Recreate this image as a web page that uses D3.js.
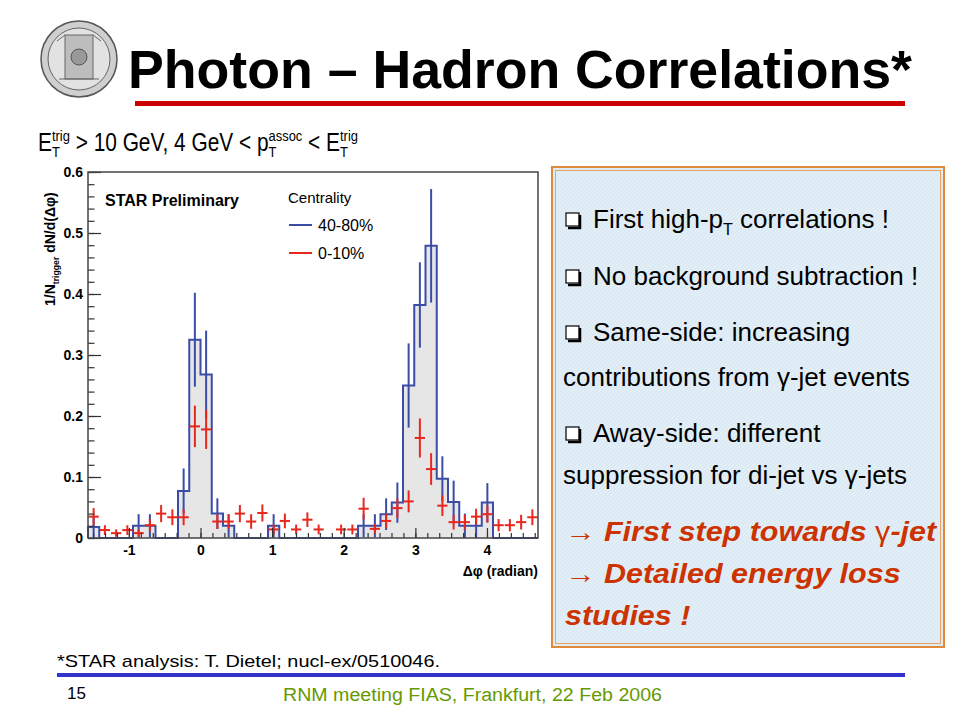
<!DOCTYPE html>
<html>
<head>
<meta charset="utf-8">
<script src="https://cdn.jsdelivr.net/npm/d3@7"></script>
<style>
  body { margin: 0; background: #fff; }
  text { font-family: "Liberation Sans", Arial, sans-serif; white-space: pre; }
</style>
</head>
<body>
<div id="slide"></div>
<script>
// histogram: 40 bins in delta-phi from -pi/2 to 3pi/2
var nBins = 40;
var phiMin = -Math.PI / 2, phiMax = 3 * Math.PI / 2;

// 40-80% centrality (blue histogram)
var blueVals = [0.018, 0, 0, 0, 0.020, 0.020, 0, 0, 0.077, 0.325,
                0.268, 0.040, 0.020, 0, 0, 0, 0.020, 0, 0, 0,
                0, 0, 0, 0, 0.020, 0.020, 0.039, 0.058, 0.250, 0.382,
                0.479, 0.097, 0.059, 0.020, 0.020, 0.058, 0, 0, 0, 0];
var blueErr = [0.018, 0, 0, 0, 0.019, 0.019, 0, 0, 0.037, 0.077,
               0.072, 0.025, 0.019, 0, 0, 0, 0.019, 0, 0, 0,
               0, 0, 0, 0, 0.019, 0.019, 0.026, 0.033, 0.069, 0.070,
               0.093, 0.037, 0.035, 0.020, 0.020, 0.032, 0, 0, 0, 0];

// 0-10% centrality (red points)
var redVals = [0.035, 0.013, 0.008, 0.013, 0.008, 0.021, 0.040, 0.034, 0.034, 0.183,
               0.178, 0.027, 0.027, 0.040, 0.027, 0.041, 0.014, 0.028, 0.014, 0.030,
               0.014, null, 0.014, 0.014, 0.048, 0.015, 0.028, 0.049, 0.060, 0.164,
               0.113, 0.053, 0.026, 0.026, 0.035, 0.039, 0.021, 0.021, 0.026, 0.034];
var redErr = [0.014, 0.008, 0.006, 0.008, 0.006, 0.010, 0.014, 0.013, 0.013, 0.034,
              0.032, 0.012, 0.012, 0.014, 0.012, 0.014, 0.008, 0.012, 0.008, 0.012,
              0.008, null, 0.008, 0.008, 0.018, 0.008, 0.012, 0.016, 0.018, 0.032,
              0.026, 0.017, 0.012, 0.012, 0.013, 0.014, 0.010, 0.010, 0.012, 0.013];

var yTicks = [0, 0.1, 0.2, 0.3, 0.4, 0.5, 0.6];
var xTicks = [-1, 0, 1, 2, 3, 4];
var legendLabels = ["40-80%", "0-10%"];

var bullets = [
    { box: true, parts: [{ t: "First high-p" }, { sub: "T" }, { t: " correlations !" }] },
    { box: true, parts: [{ t: "No background subtraction !" }] },
    { box: true, parts: [{ t: "Same-side: increasing" }] },
    { box: false, parts: [{ t: "contributions from " }, { t: "γ", serif: true }, { t: "-jet events" }] },
    { box: true, parts: [{ t: "Away-side: different" }] },
    { box: false, parts: [{ t: "suppression for di-jet vs " }, { t: "γ", serif: true }, { t: "-jets" }] }
];
var conclusions = [
    [{ t: "→", arrow: true }, { t: " First step towards " }, { t: "γ", serif: true }, { t: "-jet" }],
    [{ t: "→", arrow: true }, { t: " Detailed energy loss" }],
    [{ t: "studies !" }]
];

var svgWidth = 960, svgHeight = 720;
var svg = d3.select("#slide").append("svg")
    .attr("width", svgWidth)
    .attr("height", svgHeight);

// plot frame
var frame = { left: 88, right: 538, top: 172, bottom: 538 };

var xScale = d3.scaleLinear().domain([phiMin, phiMax]).range([frame.left, frame.right]);
var yScale = d3.scaleLinear().domain([0, 0.6]).range([frame.bottom, frame.top]);
var binW = (phiMax - phiMin) / nBins;
var binLo = i => phiMin + i * binW;
var binMid = i => phiMin + (i + 0.5) * binW;

var blueColor = "#3b4ca6", redColor = "#e8271d";

// sequential text pieces (sub/superscripts, mixed fonts)
function richText(parent, x, y, parts, o) {
    var cx = x;
    parts.forEach(function (p) {
        if (p.sup !== undefined || p.sub !== undefined) {
            var w = 0;
            if (p.sup !== undefined) {
                var s = parent.append("text").attr("x", cx).attr("y", y - o.size * 0.42)
                    .attr("font-size", o.size * 0.62).attr("font-weight", o.weight || "normal")
                    .attr("fill", o.color || "#000").text(p.sup);
                w = Math.max(w, s.node().getComputedTextLength());
            }
            if (p.sub !== undefined) {
                var b = parent.append("text").attr("x", cx).attr("y", y + o.size * 0.25)
                    .attr("font-size", o.size * 0.62).attr("font-weight", o.weight || "normal")
                    .attr("fill", o.color || "#000").text(p.sub);
                w = Math.max(w, b.node().getComputedTextLength());
            }
            cx += w;
        } else {
            var t = parent.append("text").attr("x", cx).attr("y", y)
                .attr("font-size", o.size)
                .attr("font-weight", p.serif ? "normal" : (o.weight || "normal"))
                .attr("font-style", p.serif || p.arrow ? "normal" : (o.style || "normal"))
                .attr("fill", o.color || "#000")
                .text(p.t);
            if (p.serif) t.attr("font-family", "'Liberation Serif', 'DejaVu Serif', serif");
            if (p.arrow) t.attr("font-family", "'DejaVu Sans', sans-serif").attr("font-weight", "bold");
            cx += t.node().getComputedTextLength();
        }
    });
    return cx;
}

// ---- slide header ----
var logo = svg.append("g").attr("transform", "translate(79,59)");
logo.append("circle").attr("r", 38).attr("fill", "#cfcfcf").attr("stroke", "#555").attr("stroke-width", 1.5);
logo.append("circle").attr("r", 31).attr("fill", "#e2e2e2").attr("stroke", "#666").attr("stroke-width", 1);
logo.append("rect").attr("x", -14).attr("y", -24).attr("width", 28).attr("height", 44)
    .attr("fill", "#bdbdbd").attr("stroke", "#666");
logo.append("circle").attr("r", 8).attr("cy", -2).attr("fill", "#999").attr("stroke", "#555");
logo.append("path").attr("d", "M-22,-18 L-14,-24 M22,-18 L14,-24 M-20,20 L20,20")
    .attr("stroke", "#666").attr("fill", "none");

svg.append("text")
    .attr("x", 128).attr("y", 88)
    .attr("font-size", 53).attr("font-weight", "bold")
    .attr("textLength", 784).attr("lengthAdjust", "spacingAndGlyphs")
    .text("Photon – Hadron Correlations*");

svg.append("rect").attr("x", 135).attr("y", 101).attr("width", 770).attr("height", 5).attr("fill", "#cc0000");

// ---- chart heading (narrow face, squeezed to its width in the slide) ----
var head = svg.append("g");
var hEnd = richText(head, 0, 0, [{ t: "E" }, { sup: "trig", sub: "T" }, { t: " > 10 GeV, 4 GeV < p" },
    { sup: "assoc", sub: "T" }, { t: " < E" }, { sup: "trig", sub: "T" }], { size: 25 });
head.attr("transform", `translate(38,151) scale(${320 / hEnd},1)`);

// ---- histogram ----
var chart = svg.append("g");

// filled area under blue histogram
var stepPts = [[xScale(phiMin), yScale(0)]];
blueVals.forEach(function (v, i) {
    stepPts.push([xScale(binLo(i)), yScale(v)]);
    stepPts.push([xScale(binLo(i + 1)), yScale(v)]);
});
stepPts.push([xScale(phiMax), yScale(0)]);

chart.append("path")
    .attr("d", d3.line()(stepPts) + "Z")
    .attr("fill", "#e6e6e6")
    .attr("stroke", "none");

// blue error bars
chart.selectAll(".blueErr")
    .data(blueVals.map((v, i) => ({ v: v, e: blueErr[i], i: i })).filter(d => d.v > 0))
    .enter()
    .append("line")
    .attr("x1", d => xScale(binMid(d.i)))
    .attr("x2", d => xScale(binMid(d.i)))
    .attr("y1", d => yScale(Math.max(0, d.v - d.e)))
    .attr("y2", d => yScale(d.v + d.e))
    .attr("stroke", blueColor)
    .attr("stroke-width", 2);

chart.append("path")
    .attr("d", d3.line()(stepPts))
    .attr("fill", "none")
    .attr("stroke", blueColor)
    .attr("stroke-width", 2);

// red points with errors
var redData = redVals.map((v, i) => ({ v: v, e: redErr[i], i: i })).filter(d => d.v !== null);
var redG = chart.selectAll(".redPt").data(redData).enter().append("g");
redG.append("line")
    .attr("x1", d => xScale(binLo(d.i)) + 0.5)
    .attr("x2", d => xScale(binLo(d.i + 1)) - 0.5)
    .attr("y1", d => yScale(d.v))
    .attr("y2", d => yScale(d.v))
    .attr("stroke", redColor).attr("stroke-width", 2);
redG.append("line")
    .attr("x1", d => xScale(binMid(d.i)))
    .attr("x2", d => xScale(binMid(d.i)))
    .attr("y1", d => yScale(d.v - d.e))
    .attr("y2", d => yScale(d.v + d.e))
    .attr("stroke", redColor).attr("stroke-width", 2);

// axes (ticks pointing inside the frame)
var yMinor = d3.range(0, 0.6001, 0.02);
var xMinor = d3.range(-1.5, 4.72, 1 / 6);
var axisFont = g => g.selectAll("text").attr("font-size", 14).attr("font-weight", "bold")
    .attr("font-family", "'Liberation Sans', Arial, sans-serif").attr("fill", "#000");

chart.append("g")
    .attr("transform", `translate(${frame.left},0)`)
    .call(d3.axisLeft(yScale).tickValues(yMinor).tickSize(-6.5).tickFormat(""))
    .call(g => g.select(".domain").remove());
chart.append("g")
    .attr("transform", `translate(${frame.left},0)`)
    .call(d3.axisLeft(yScale).tickValues(yTicks).tickSize(-13).tickPadding(5)
        .tickFormat(d => d === 0 ? "0" : d.toFixed(1)))
    .call(g => g.select(".domain").remove())
    .call(axisFont);

chart.append("g")
    .attr("transform", `translate(0,${frame.bottom})`)
    .call(d3.axisBottom(xScale).tickValues(xMinor).tickSize(-5).tickFormat(""))
    .call(g => g.select(".domain").remove());
chart.append("g")
    .attr("transform", `translate(0,${frame.bottom})`)
    .call(d3.axisBottom(xScale).tickValues(xTicks).tickSize(-10).tickPadding(7)
        .tickFormat(d => String(d)))
    .call(g => g.select(".domain").remove())
    .call(axisFont);

chart.selectAll(".tick line").attr("stroke", "#333").attr("stroke-width", 1.2);

chart.append("rect")
    .attr("x", frame.left).attr("y", frame.top)
    .attr("width", frame.right - frame.left).attr("height", frame.bottom - frame.top)
    .attr("fill", "none").attr("stroke", "#444").attr("stroke-width", 1.5);

// axis titles
chart.append("text")
    .attr("x", frame.right).attr("y", 576)
    .attr("text-anchor", "end")
    .attr("font-size", 14).attr("font-weight", "bold")
    .text("Δφ (radian)");

var ylab = chart.append("g").attr("transform", "translate(55,306) rotate(-90)");
richText(ylab, 0, 0, [{ t: "1/N" }, { sub: "trigger" }, { t: " dN/d(Δφ)" }], { size: 14, weight: "bold" });

// legend
chart.append("text").attr("x", 105).attr("y", 206)
    .attr("font-size", 16).attr("font-weight", "bold").text("STAR Preliminary");
chart.append("text").attr("x", 288).attr("y", 203)
    .attr("font-size", 15).text("Centrality");
var legColors = [blueColor, redColor];
legendLabels.forEach(function (lab, i) {
    var ly = 225 + i * 28;
    chart.append("line").attr("x1", 289).attr("x2", 312).attr("y1", ly).attr("y2", ly)
        .attr("stroke", legColors[i]).attr("stroke-width", 2);
    chart.append("text").attr("x", 318).attr("y", ly + 6)
        .attr("font-size", 16).text(lab);
});

// ---- right text box ----
var defs = svg.append("defs");
var pat = defs.append("pattern").attr("id", "hatch").attr("width", 4).attr("height", 4)
    .attr("patternUnits", "userSpaceOnUse");
pat.append("rect").attr("width", 4).attr("height", 4).attr("fill", "#e2eef7");
pat.append("path").attr("d", "M0,4 L4,0").attr("stroke", "#d4e3ee").attr("stroke-width", 0.8);

var box = svg.append("g");
box.append("rect").attr("x", 552).attr("y", 167).attr("width", 392).attr("height", 480)
    .attr("fill", "url(#hatch)").attr("stroke", "#e08a3c").attr("stroke-width", 2);
box.append("rect").attr("x", 555.5).attr("y", 170.5).attr("width", 385).attr("height", 473)
    .attr("fill", "none").attr("stroke", "#e9a35f").attr("stroke-width", 1);

var bulletY = [228, 285, 341, 386, 442, 484];
bullets.forEach(function (b, i) {
    var tx = 563;
    if (b.box) {
        box.append("rect").attr("x", 566).attr("y", bulletY[i] - 15).attr("width", 13).attr("height", 13)
            .attr("fill", "#fff").attr("stroke", "#000").attr("stroke-width", 1.2);
        box.append("path").attr("d", `M580,${bulletY[i] - 13} L580,${bulletY[i]} L568,${bulletY[i]}`)
            .attr("fill", "none").attr("stroke", "#000").attr("stroke-width", 2.5);
        tx = 593;
    }
    richText(box, tx, bulletY[i], b.parts, { size: 26 });
});

// red conclusions: heavy italic, stretched to the slide's width
var conclY = [541, 583, 625];
conclusions.forEach(function (parts, i) {
    var lg = box.append("g").attr("transform", `translate(565,${conclY[i]}) scale(1.13,1)`);
    richText(lg, 0, 0, parts, { size: 27, weight: "bold", style: "italic", color: "#cc3300" });
});

// ---- footer ----
svg.append("text").attr("x", 57).attr("y", 667).attr("font-size", 17)
    .attr("textLength", 383).attr("lengthAdjust", "spacingAndGlyphs")
    .text("*STAR analysis: T. Dietel; nucl-ex/0510046.");
svg.append("rect").attr("x", 57).attr("y", 673).attr("width", 848).attr("height", 4).attr("fill", "#3333cc");
svg.append("text").attr("x", 67).attr("y", 699).attr("font-size", 17).text("15");
svg.append("text").attr("x", 283).attr("y", 701)
    .attr("font-size", 18).attr("fill", "#669900")
    .attr("textLength", 379).attr("lengthAdjust", "spacingAndGlyphs")
    .text("RNM meeting FIAS, Frankfurt, 22 Feb 2006");
</script>
</body>
</html>
